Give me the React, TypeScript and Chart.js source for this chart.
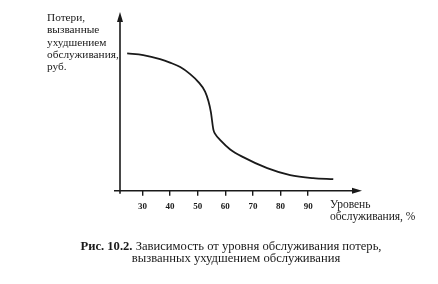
import React, { useEffect, useRef } from "react";
import { Chart, registerables } from "chart.js";

Chart.register(...registerables);

// Service level, %
const levels = [24.5, 30.3, 36.4, 40.0, 43.7, 47.3, 50.3, 52.7, 53.9, 54.8, 55.7, 56.4, 58.2, 61.8, 66.5, 75.2, 83.5, 91.8, 99.1];
// Losses caused by poor service (relative units)
const losses = [137.2, 135.5, 131.5, 128.0, 123.5, 116.5, 108.5, 99.0, 89.5, 78.5, 61.0, 56.5, 50.5, 41.2, 33.5, 22.5, 15.5, 12.5, 11.5];
const xTicks = [30, 40, 50, 60, 70, 80, 90];

const yLabelLines = ["Потери,", "вызванные", "ухудшением", "обслуживания,", "руб."];
const xLabelLines = ["Уровень", "обслуживания, %"];
const captionBold = "Рис. 10.2.";
const captionRest = " Зависимость от уровня обслуживания потерь,";
const captionLine2 = "вызванных ухудшением обслуживания";

const INK = "#1a1a1a";
const SERIF = "'Liberation Serif', 'DejaVu Serif', serif";

const decorPlugin = {
  id: "decor",
  afterDraw(chart: any) {
    const ctx = chart.ctx as CanvasRenderingContext2D;
    const { left, right, top, bottom } = chart.chartArea;
    ctx.save();
    ctx.strokeStyle = INK;
    ctx.fillStyle = INK;
    ctx.lineWidth = 1.6;
    // y axis
    ctx.beginPath();
    ctx.moveTo(left, bottom + 3);
    ctx.lineTo(left, top + 6);
    ctx.stroke();
    ctx.beginPath();
    ctx.moveTo(left, top);
    ctx.lineTo(left - 3, top + 10);
    ctx.lineTo(left + 3, top + 10);
    ctx.closePath();
    ctx.fill();
    // x axis
    ctx.beginPath();
    ctx.moveTo(left - 6, bottom);
    ctx.lineTo(right - 6, bottom);
    ctx.stroke();
    ctx.beginPath();
    ctx.moveTo(right, bottom);
    ctx.lineTo(right - 10, bottom - 3);
    ctx.lineTo(right - 10, bottom + 3);
    ctx.closePath();
    ctx.fill();

    // y label
    ctx.font = `11.3px ${SERIF}`;
    ctx.textAlign = "left";
    ctx.textBaseline = "middle";
    yLabelLines.forEach((t, i) => ctx.fillText(t, 47, 18 + i * 12.3));
    // x label
    ctx.font = `11.5px ${SERIF}`;
    xLabelLines.forEach((t, i) => ctx.fillText(t, 330, 205 + i * 12));

    // caption
    const cf = 12.6;
    ctx.font = `bold ${cf}px ${SERIF}`;
    const wb = ctx.measureText(captionBold).width;
    ctx.font = `${cf}px ${SERIF}`;
    const wr = ctx.measureText(captionRest).width;
    const cx = 231;
    const start = cx - (wb + wr) / 2;
    ctx.font = `bold ${cf}px ${SERIF}`;
    ctx.fillText(captionBold, start, 247);
    ctx.font = `${cf}px ${SERIF}`;
    ctx.fillText(captionRest, start + wb, 247);
    ctx.textAlign = "center";
    ctx.fillText(captionLine2, 236, 259);
    ctx.restore();
  },
};

export default function App() {
  const ref = useRef<HTMLCanvasElement>(null);
  useEffect(() => {
    if (!ref.current) return;
    const chart = new Chart(ref.current, {
      type: "line",
      data: {
        datasets: [
          {
            data: levels.map((x, i) => ({ x, y: losses[i] })),
            borderColor: INK,
            borderWidth: 1.8,
            pointRadius: 0,
            cubicInterpolationMode: "monotone",
            fill: false,
          },
        ],
      },
      options: {
        responsive: false,
        animation: false,
        events: [],
        layout: { padding: { left: 120, right: 76, top: 12, bottom: 65.5 } },
        plugins: { legend: { display: false }, tooltip: { enabled: false }, title: { display: false } },
        scales: {
          x: {
            type: "linear",
            min: 21.9,
            max: 109.5,
            afterBuildTicks: (scale: any) => {
              scale.ticks = xTicks.map((v) => ({ value: v }));
            },
            grid: { drawOnChartArea: false, drawTicks: true, tickLength: 5, color: INK, lineWidth: 1.4 },
            border: { display: false },
            ticks: { font: { size: 9, family: SERIF, weight: "bold" }, color: INK, padding: 6, maxRotation: 0 },
          },
          y: { display: false, min: 0, max: 178.5 },
        },
      },
      plugins: [decorPlugin],
    });
    return () => chart.destroy();
  }, []);
  return (
    <div style={{ position: "absolute", left: 0, top: 0, width: 438, height: 284, background: "#fff" }}>
      <canvas ref={ref} width={438} height={284} />
    </div>
  );
}
